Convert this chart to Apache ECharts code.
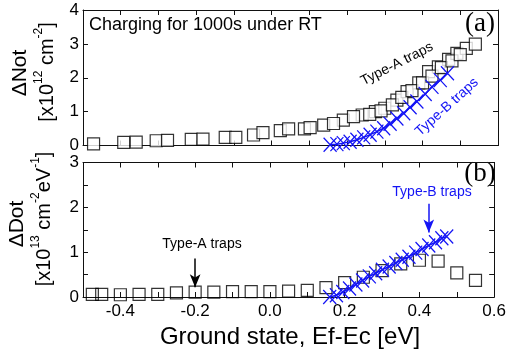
<!DOCTYPE html>
<html>
<head>
<meta charset="utf-8">
<script src="https://cdn.jsdelivr.net/npm/echarts@6/dist/echarts.min.js"></script>
<style>
html,body{margin:0;padding:0;background:#fff;}
#chart{width:509px;height:353px;}
</style>
</head>
<body>
<div id="chart"></div>
<script>
// ---- Data ----
// Panel (a): ΔNot, Type-A traps (two overlapping square sets)
const topA1X = [-0.472,-0.392,-0.306,-0.213,-0.123,-0.048,0.023,0.087,0.138,0.19,0.24,0.275,0.30,0.332,0.359,0.39,0.416,0.442,0.469,0.491,0.516,0.54];
const topA1Y = [0.05,0.09,0.14,0.18,0.24,0.31,0.44,0.49,0.60,0.75,0.90,1.0,1.1,1.34,1.59,1.85,2.18,2.32,2.54,2.72,2.87,2.99];
const topA2X = [-0.359,-0.276,-0.182,-0.095,-0.023,0.045,0.102,0.164,0.217,0.26,0.29,0.32,0.345,0.372,0.40,0.425,0.45,0.478,0.50];
const topA2Y = [0.10,0.15,0.19,0.24,0.38,0.49,0.53,0.65,0.85,0.92,1.02,1.2,1.42,1.62,1.85,2.05,2.3,2.5,2.68];
// Panel (a): Type-B traps (blue crosses)
const topBX = [0.155,0.173,0.19,0.208,0.226,0.244,0.261,0.279,0.297,0.314,0.332,0.35,0.367,0.385,0.407,0.425,0.447,0.466];
const topBY = [0.02,0.04,0.07,0.11,0.17,0.24,0.32,0.41,0.51,0.64,0.80,0.95,1.13,1.30,1.52,1.73,1.93,2.13];
// Panel (b): ΔDot, Type-A traps (squares)
const botAX = [-0.475,-0.45,-0.4,-0.35,-0.3,-0.25,-0.2,-0.15,-0.1,-0.05,0,0.05,0.1,0.15,0.2,0.25,0.3,0.35,0.4,0.45,0.5,0.55];
const botAY = [0.06,0.06,0.05,0.06,0.06,0.09,0.11,0.11,0.12,0.12,0.12,0.13,0.15,0.21,0.32,0.44,0.59,0.74,0.82,0.80,0.54,0.37];
// Panel (b): Type-B traps (blue crosses)
const botBX = [0.16,0.178,0.195,0.213,0.23,0.248,0.266,0.283,0.301,0.319,0.337,0.354,0.372,0.39,0.407,0.425,0.443,0.46,0.473];
const botBY = [0.0,0.04,0.11,0.19,0.28,0.37,0.46,0.53,0.61,0.68,0.76,0.83,0.90,0.99,1.07,1.15,1.22,1.31,1.35];
// Axis ranges / ticks
const xRange = [-0.5, 0.6];
const xTickStep = 0.1;
const topYRange = [0, 4];
const topYStep = 1;
const botYRange = [0, 3];
const botYStep = 0.5;
// Arrows in panel (b): [x, yStart, yEnd]
const arrowA = [-0.2, 0.86, 0.22];
const arrowB = [0.425, 2.08, 1.44];

const zip = (xs, ys) => xs.map((x, i) => [x, ys[i]]);

const FONT = '"Liberation Sans", Arial, Helvetica, sans-serif';
const AX = '#111';
const BLUE = '#1414f5';

function xAxisDef(gridIndex, position, showLabels) {
  return {
    type: 'value', gridIndex, position,
    min: xRange[0], max: xRange[1], interval: xTickStep,
    axisLine: { show: true, onZero: false, lineStyle: { color: AX, width: 1 } },
    axisTick: { show: true, inside: true, length: 5, lineStyle: { color: AX, width: 1 } },
    splitLine: { show: false },
    axisLabel: {
      show: showLabels, margin: 6, color: '#000', fontSize: 17, fontFamily: FONT,
      formatter: v => {
        const r = Math.round(v * 10);
        if (r % 2 !== 0) return '';
        return (r / 10).toFixed(1);
      }
    }
  };
}
function yAxisDef(gridIndex, position, range, step, showLabels) {
  return {
    type: 'value', gridIndex, position,
    min: range[0], max: range[1], interval: step,
    axisLine: { show: true, onZero: false, lineStyle: { color: AX, width: 1 } },
    axisTick: { show: true, inside: true, length: 5, lineStyle: { color: AX, width: 1 } },
    splitLine: { show: false },
    axisLabel: {
      show: showLabels, margin: 4, color: '#000', fontSize: 17, fontFamily: FONT,
      formatter: v => (Math.abs(v - Math.round(v)) < 1e-6 ? String(Math.round(v)) : '')
    }
  };
}

const squareStyle = {
  type: 'scatter', symbol: 'rect', symbolSize: 12,
  itemStyle: { color: '#fff', borderColor: '#000', borderWidth: 1.2 },
  silent: true
};
const crossPath = 'path://M0,0L10,10M10,0L0,10';
function crossSeries(xi, yi, data) {
  return {
    type: 'line', xAxisIndex: xi, yAxisIndex: yi, data,
    symbol: crossPath, symbolSize: [13, 14], showSymbol: true,
    lineStyle: { color: BLUE, width: 1.5 },
    itemStyle: { color: 'rgba(0,0,0,0)', borderColor: BLUE, borderWidth: 1.3 },
    silent: true, z: 5
  };
}

const option = {
  animation: false,
  backgroundColor: '#fff',
  grid: [
    { left: 83, top: 10, width: 415, height: 135.5 },
    { left: 83, top: 162.5, width: 415, height: 134.5 }
  ],
  xAxis: [
    xAxisDef(0, 'bottom', false),
    xAxisDef(0, 'top', false),
    xAxisDef(1, 'bottom', true),
    xAxisDef(1, 'top', false)
  ],
  yAxis: [
    yAxisDef(0, 'left', topYRange, topYStep, true),
    yAxisDef(0, 'right', topYRange, topYStep, false),
    yAxisDef(1, 'left', botYRange, botYStep, true),
    yAxisDef(1, 'right', botYRange, botYStep, false)
  ],
  series: [
    Object.assign({}, squareStyle, { xAxisIndex: 0, yAxisIndex: 0, data: zip(topA1X, topA1Y) }),
    Object.assign({}, squareStyle, { xAxisIndex: 0, yAxisIndex: 0, data: zip(topA2X, topA2Y) }),
    crossSeries(0, 0, zip(topBX, topBY)),
    Object.assign({}, squareStyle, {
      xAxisIndex: 2, yAxisIndex: 2, data: zip(botAX, botAY),
      itemStyle: { color: 'rgba(255,255,255,0)', borderColor: '#000', borderWidth: 1.2 },
      markLine: {
        silent: true, symbol: ['none', 'arrow'], symbolSize: [8, 13],
        label: { show: false },
        lineStyle: { color: '#000', width: 1.5, type: 'solid' },
        data: [[{ coord: [arrowA[0], arrowA[1]] }, { coord: [arrowA[0], arrowA[2]] }]]
      }
    }),
    Object.assign(crossSeries(2, 2, zip(botBX, botBY)), {
      markLine: {
        silent: true, symbol: ['none', 'arrow'], symbolSize: [8, 13],
        label: { show: false },
        lineStyle: { color: BLUE, width: 1.5, type: 'solid' },
        data: [[{ coord: [arrowB[0], arrowB[1]] }, { coord: [arrowB[0], arrowB[2]] }]]
      }
    })
  ],
  graphic: [
    { type: 'text', x: 89, y: 25, style: { text: 'Charging for 1000s under RT', fontSize: 18, fontFamily: FONT, fill: '#000', textAlign: 'left', textVerticalAlign: 'middle' } },
    { type: 'text', x: 480, y: 24, style: { text: '(a)', fontSize: 27, fontFamily: '"Liberation Serif", "Times New Roman", serif', fill: '#000', textAlign: 'center', textVerticalAlign: 'middle' } },
    { type: 'text', x: 480, y: 174, style: { text: '(b)', fontSize: 27, fontFamily: '"Liberation Serif", "Times New Roman", serif', fill: '#000', textAlign: 'center', textVerticalAlign: 'middle' } },
    { type: 'text', x: 397, y: 64, rotation: 27 * Math.PI / 180, style: { text: 'Type-A traps', fontSize: 14, fontFamily: FONT, fill: '#000', textAlign: 'center', textVerticalAlign: 'middle' } },
    { type: 'text', x: 447, y: 107, rotation: 42 * Math.PI / 180, style: { text: 'Type-B traps', fontSize: 14, fontFamily: FONT, fill: BLUE, textAlign: 'center', textVerticalAlign: 'middle' } },
    { type: 'text', x: 432, y: 192, style: { text: 'Type-B traps', fontSize: 14, fontFamily: FONT, fill: BLUE, textAlign: 'center', textVerticalAlign: 'middle' } },
    { type: 'text', x: 202, y: 244, style: { text: 'Type-A traps', fontSize: 14, fontFamily: FONT, fill: '#000', textAlign: 'center', textVerticalAlign: 'middle' } },
    // Y axis names
    { type: 'text', x: 20, y: 73, rotation: Math.PI / 2, style: { text: 'ΔNot', fontSize: 21, fontFamily: FONT, fill: '#000', textAlign: 'center', textVerticalAlign: 'middle' } },
    { type: 'text', x: 45, y: 72, rotation: Math.PI / 2, style: {
        text: '{n|[x10}{s|12}{n| cm}{s|-2}{n|]}', textAlign: 'center', textVerticalAlign: 'middle', fill: '#000',
        rich: { n: { fontSize: 20, fontFamily: FONT, lineHeight: 24, verticalAlign: 'bottom' }, s: { fontSize: 12, fontFamily: FONT, lineHeight: 12, verticalAlign: 'top' } } } },
    { type: 'text', x: 17, y: 224, rotation: Math.PI / 2, style: { text: 'ΔDot', fontSize: 21, fontFamily: FONT, fill: '#000', textAlign: 'center', textVerticalAlign: 'middle' } },
    { type: 'text', x: 42, y: 219, rotation: Math.PI / 2, style: {
        text: '{n|[x10}{s|13}{n| cm}{s|-2}{n|eV}{s|-1}{n|]}', textAlign: 'center', textVerticalAlign: 'middle', fill: '#000',
        rich: { n: { fontSize: 20, fontFamily: FONT, lineHeight: 24, verticalAlign: 'bottom' }, s: { fontSize: 12, fontFamily: FONT, lineHeight: 12, verticalAlign: 'top' } } } },
    // X axis name
    { type: 'text', x: 290, y: 337, style: { text: 'Ground state, Ef-Ec [eV]', fontSize: 24, fontFamily: FONT, fill: '#000', textAlign: 'center', textVerticalAlign: 'middle' } }
  ]
};

const chart = echarts.init(document.getElementById('chart'), null, { renderer: 'canvas' });
chart.setOption(option);
</script>
</body>
</html>
